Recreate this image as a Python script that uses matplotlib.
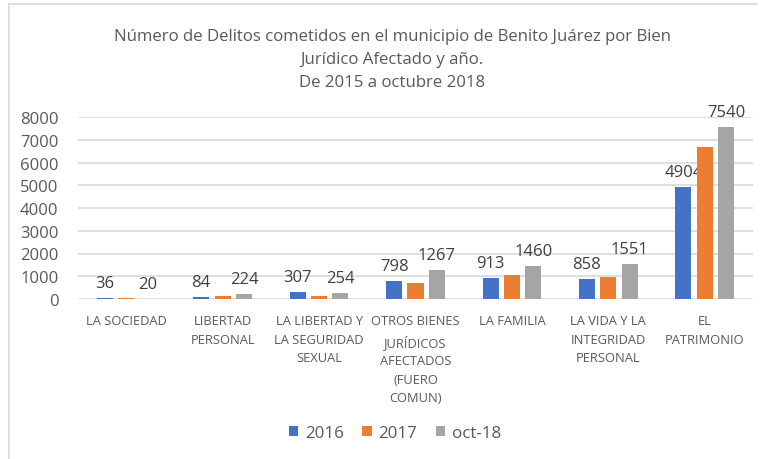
import numpy as np
import matplotlib.pyplot as plt
from matplotlib.lines import Line2D

# datos
categorias = ["LA SOCIEDAD", "LIBERTAD\nPERSONAL", "LA LIBERTAD Y\nLA SEGURIDAD\nSEXUAL",
              "OTROS BIENES\nJURÍDICOS\nAFECTADOS\n(FUERO\nCOMUN)", "LA FAMILIA",
              "LA VIDA Y LA\nINTEGRIDAD\nPERSONAL", "EL\nPATRIMONIO"]
series = ["2016", "2017", "oct-18"]
v2016 = [36, 84, 307, 798, 913, 858, 4904]
v2017 = [30, 150, 150, 705, 1070, 985, 6700]
voct18 = [20, 224, 254, 1267, 1460, 1551, 7540]
etiquetar = [True, False, True]

colores = ["#4472C4", "#ED7D31", "#A5A5A5"]
fuente = "Open Sans"

fig = plt.figure(figsize=(7.62, 4.60), dpi=100)
ax = fig.add_axes([78/762, 1-300/460, (753-78)/762, 182/460])

x = np.arange(len(categorias))
ancho = 0.166
paso = 0.222
for i, (vals, nombre) in enumerate(zip([v2016, v2017, voct18], series)):
    pos = x + (i - 1)*paso
    ax.bar(pos, vals, width=ancho, color=colores[i], label=nombre, zorder=3)
    if etiquetar[i]:
        for px, v in zip(pos, vals):
            ax.annotate(str(v), (px, v), xytext=(0, 7), textcoords="offset pixels",
                        ha="center", va="bottom", fontsize=12, color="#404040",
                        family=fuente, annotation_clip=False)

ax.set_xlim(-0.5, len(categorias) - 0.5)
ax.set_ylim(0, 8000)
ax.set_yticks(np.arange(0, 8001, 1000))
ax.yaxis.grid(True, color="#d9d9d9", linewidth=1.2, zorder=0)
ax.set_axisbelow(True)
for s in ax.spines.values():
    s.set_visible(False)
ax.set_xticks(x)
ax.set_xticklabels(categorias, fontsize=9.3, color="#595959", family=fuente, linespacing=1.55)
ax.tick_params(axis="x", length=0, pad=11)
ax.tick_params(axis="y", length=0, pad=14, labelsize=12, labelcolor="#595959")
for t in ax.get_yticklabels():
    t.set_family(fuente)

fig.text(392/762, 1-60/460, "Número de Delitos cometidos en el municipio de Benito Juárez por Bien\n"
         "Jurídico Afectado y año.\nDe 2015 a octubre 2018", ha="center", va="center",
         fontsize=12.1, color="#595959", family=fuente, linespacing=1.6)

fig.legend(loc="center", bbox_to_anchor=(395/762, 1-434/460), ncol=3, frameon=False,
           prop={"family": fuente, "size": 12.2}, labelcolor="#595959",
           handlelength=0.55, handleheight=0.55, handletextpad=0.4, columnspacing=1.1)

# marco del grafico
fig.add_artist(Line2D([9/762, 757/762], [1-5/460, 1-5/460], color="#d9d9d9", linewidth=1.2))
fig.add_artist(Line2D([9/762, 9/762], [1-5/460, 0], color="#d9d9d9", linewidth=1.2))

plt.savefig("out.png", dpi=100)
